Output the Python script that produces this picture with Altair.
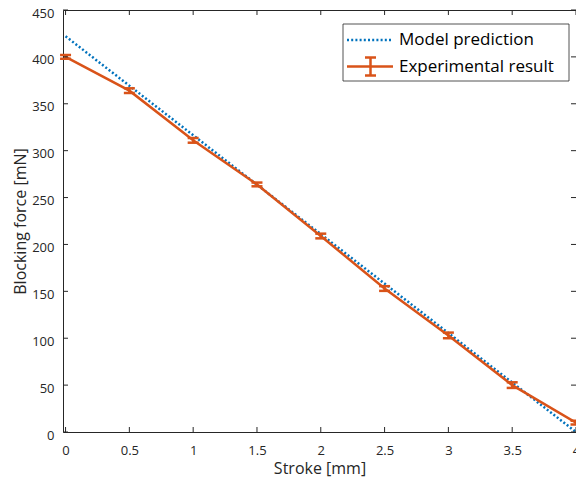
import altair as alt
import pandas as pd

# ---- data ----
stroke_mm = [0, 0.5, 1, 1.5, 2, 2.5, 3, 3.5, 4]
force_exp = [400, 364, 311, 264, 209, 153, 103, 50, 10]
force_err = [2, 2.5, 2.5, 2, 2.5, 2.5, 3, 3, 2]
model_stroke = [0, 4]
model_force = [422, 0]
series_names = ["Model prediction", "Experimental result"]
x_ticks = [0, 0.5, 1, 1.5, 2, 2.5, 3, 3.5, 4]
y_ticks = [0, 50, 100, 150, 200, 250, 300, 350, 400, 450]

BLUE = "#0072BD"
ORANGE = "#D95319"
AXC = "#262626"
FONT = "Open Sans"
W, H = 513, 422

exp_df = pd.DataFrame({
    "stroke": stroke_mm,
    "force": force_exp,
    "lo": [f - e for f, e in zip(force_exp, force_err)],
    "hi": [f + e for f, e in zip(force_exp, force_err)],
})
model_df = pd.DataFrame({"stroke": model_stroke, "force": model_force})
xt_df = pd.DataFrame({"v": x_ticks})
yt_df = pd.DataFrame({"v": y_ticks})
leg_df = pd.DataFrame({"label": series_names, "row": [0, 1]})

xscale = alt.Scale(domain=[-0.02, 4], nice=False, zero=False)
yscale = alt.Scale(domain=[0, 450], nice=False, zero=False)

xaxis = alt.Axis(values=x_ticks, labelExpr="'' + datum.value", title="Stroke [mm]", ticks=False, tickSize=0,
                 domain=False, grid=False, labelFlush=False, labelFontSize=13, labelPadding=12,
                 labelColor=AXC, titleColor=AXC, titleFontSize=16, titleFontWeight="normal",
                 titlePadding=3)
yaxis = alt.Axis(values=y_ticks, format="d", title="Blocking force [mN]", ticks=False, tickSize=0,
                 domain=False, grid=False, labelFontSize=13, labelPadding=9, labelOffset=3,
                 labelColor=AXC, titleColor=AXC, titleFontSize=16, titleFontWeight="normal",
                 titlePadding=3)

base_x = alt.X("stroke:Q", scale=xscale, axis=xaxis)
base_y = alt.Y("force:Q", scale=yscale, axis=yaxis)

model_line = alt.Chart(model_df).mark_line(
    color=BLUE, strokeWidth=2.5, strokeDash=[2, 2.2]
).encode(x=base_x, y=base_y)

exp_line = alt.Chart(exp_df).mark_line(color=ORANGE, strokeWidth=2.5).encode(
    x=alt.X("stroke:Q", scale=xscale), y=alt.Y("force:Q", scale=yscale)
)
err_v = alt.Chart(exp_df).mark_rule(color=ORANGE, strokeWidth=2.5).encode(
    x=alt.X("stroke:Q", scale=xscale), y=alt.Y("lo:Q", scale=yscale), y2="hi:Q"
)
cap_lo = alt.Chart(exp_df).mark_rule(color=ORANGE, strokeWidth=2.5, xOffset=-5.5, x2Offset=5.5).encode(
    x=alt.X("stroke:Q", scale=xscale), x2="stroke:Q", y=alt.Y("lo:Q", scale=yscale)
)
cap_hi = alt.Chart(exp_df).mark_rule(color=ORANGE, strokeWidth=2.5, xOffset=-5.5, x2Offset=5.5).encode(
    x=alt.X("stroke:Q", scale=xscale), x2="stroke:Q", y=alt.Y("hi:Q", scale=yscale)
)

# inward box ticks
tk = dict(color=AXC, strokeWidth=1)
xt_bot = alt.Chart(xt_df).mark_rule(**tk).encode(
    x=alt.X("v:Q", scale=xscale), y=alt.value(H), y2=alt.value(H - 5))
xt_top = alt.Chart(xt_df).mark_rule(**tk).encode(
    x=alt.X("v:Q", scale=xscale), y=alt.value(0), y2=alt.value(5))
yt_left = alt.Chart(yt_df).mark_rule(**tk).encode(
    y=alt.Y("v:Q", scale=yscale), x=alt.value(0), x2=alt.value(5))
yt_right = alt.Chart(yt_df).mark_rule(**tk).encode(
    y=alt.Y("v:Q", scale=yscale), x=alt.value(W), x2=alt.value(W - 5))

# legend
LX = 280
leg_box = alt.Chart(leg_df).transform_filter("datum.row == 0").mark_rect(
    fill="white", stroke=AXC, strokeWidth=0.8
).encode(x=alt.value(LX), x2=alt.value(LX + 226), y=alt.value(14), y2=alt.value(71))
leg_model = alt.Chart(leg_df).transform_filter("datum.row == 0").mark_rule(
    color=BLUE, strokeWidth=2.5, strokeDash=[2, 2.2]
).encode(x=alt.value(LX + 4), x2=alt.value(LX + 50), y=alt.value(30))
leg_exp = alt.Chart(leg_df).transform_filter("datum.row == 1").mark_rule(
    color=ORANGE, strokeWidth=2.5
).encode(x=alt.value(LX + 4), x2=alt.value(LX + 50), y=alt.value(56.5))
leg_exp_v = alt.Chart(leg_df).transform_filter("datum.row == 1").mark_rule(
    color=ORANGE, strokeWidth=2.5
).encode(x=alt.value(LX + 27.5), y=alt.value(47.5), y2=alt.value(65.5))
leg_exp_c1 = alt.Chart(leg_df).transform_filter("datum.row == 1").mark_rule(
    color=ORANGE, strokeWidth=2.5
).encode(x=alt.value(LX + 22), x2=alt.value(LX + 33), y=alt.value(47.5))
leg_exp_c2 = alt.Chart(leg_df).transform_filter("datum.row == 1").mark_rule(
    color=ORANGE, strokeWidth=2.5
).encode(x=alt.value(LX + 22), x2=alt.value(LX + 33), y=alt.value(65.5))
leg_t1 = alt.Chart(leg_df).transform_filter("datum.row == 0").mark_text(
    align="left", baseline="middle", fontSize=17, color="black", font=FONT
).encode(text="label:N", x=alt.value(LX + 56), y=alt.value(30))
leg_t2 = alt.Chart(leg_df).transform_filter("datum.row == 1").mark_text(
    align="left", baseline="middle", fontSize=17, color="black", font=FONT
).encode(text="label:N", x=alt.value(LX + 56), y=alt.value(56.5))

chart = alt.layer(
    model_line, exp_line, err_v, cap_lo, cap_hi,
    xt_bot, xt_top, yt_left, yt_right,
    leg_box, leg_model, leg_exp, leg_exp_v, leg_exp_c1, leg_exp_c2, leg_t1, leg_t2,
).properties(
    width=W, height=H,
    autosize=alt.AutoSizeParams(type="none"),
    padding={"left": 55, "top": 2, "right": 0, "bottom": 46},
).configure(font=FONT).configure_view(stroke=AXC, strokeWidth=1)

chart.save("out.html", embed_options={"renderer": "svg", "actions": False})
